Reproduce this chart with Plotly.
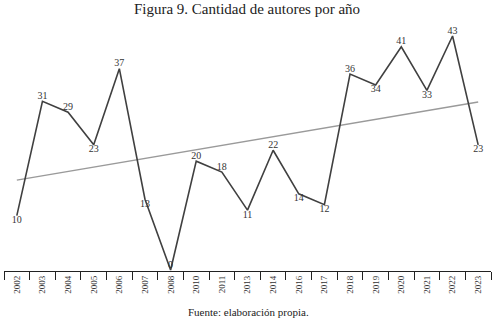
import plotly.graph_objects as go
import numpy as np

years = ["2002", "2003", "2004", "2005", "2006", "2007", "2008", "2010", "2011", "2013",
         "2014", "2016", "2017", "2018", "2019", "2020", "2021", "2022", "2023"]
authors = [10, 31, 29, 23, 37, 13, 0, 20, 18, 11, 22, 14, 12, 36, 34, 41, 33, 43, 23]
label_pos = ["bottom center", "top center", "top center", "bottom center", "top center",
             "bottom center", "top center", "top center", "top center", "bottom center",
             "top center", "bottom center", "bottom center", "top center", "bottom center",
             "top center", "bottom center", "top center", "bottom center"]

idx = np.arange(len(authors))
slope, intercept = np.polyfit(idx, authors, 1)
trend = slope * idx + intercept

FONT = "Liberation Serif"
L, R, T, B = 4, 4, 30, 53
W, H = 495, 324
plot_w = W - L - R
plot_h = H - T - B

fig = go.Figure()
fig.add_trace(go.Scatter(
    x=years, y=trend, mode="lines",
    line=dict(color="#9a9a9a", width=1.5),
    hoverinfo="skip", showlegend=False,
))
fig.add_trace(go.Scatter(
    x=years, y=authors, mode="lines+text",
    line=dict(color="#404040", width=1.6),
    text=[str(v) for v in authors], textposition=label_pos,
    textfont=dict(family=FONT, size=10, color="#333333"),
    cliponaxis=False, showlegend=False,
))

fig.update_layout(
    width=W, height=H,
    margin=dict(l=L, r=R, t=T, b=B),
    paper_bgcolor="white", plot_bgcolor="white",
    font=dict(family=FONT, color="#222222"),
    title=dict(text="Figura 9. Cantidad de autores por año",
               x=(247) / W, xanchor="center",
               y=1 - 3 / H, yanchor="top",
               font=dict(family=FONT, size=15, color="#222222")),
    xaxis=dict(type="category", showgrid=False, zeroline=False,
               showline=True, linecolor="#222222", linewidth=1.2,
               ticks="outside", ticklen=8, tickcolor="#222222", tickwidth=1,
               tickson="boundaries", tickangle=-90,
               tickfont=dict(family=FONT, size=9, color="#333333"),
               range=[-0.5, 18.5]),
    yaxis=dict(visible=False, range=[-0.18, 44.1]),
    annotations=[dict(text="Fuente: elaboración propia.",
                      x=(248 - L) / plot_w, y=-(312 - (H - B)) / plot_h,
                      xref="paper", yref="paper", xanchor="center", yanchor="middle",
                      showarrow=False, font=dict(family=FONT, size=11, color="#222222"))],
)

fig.write_html("out.html")
